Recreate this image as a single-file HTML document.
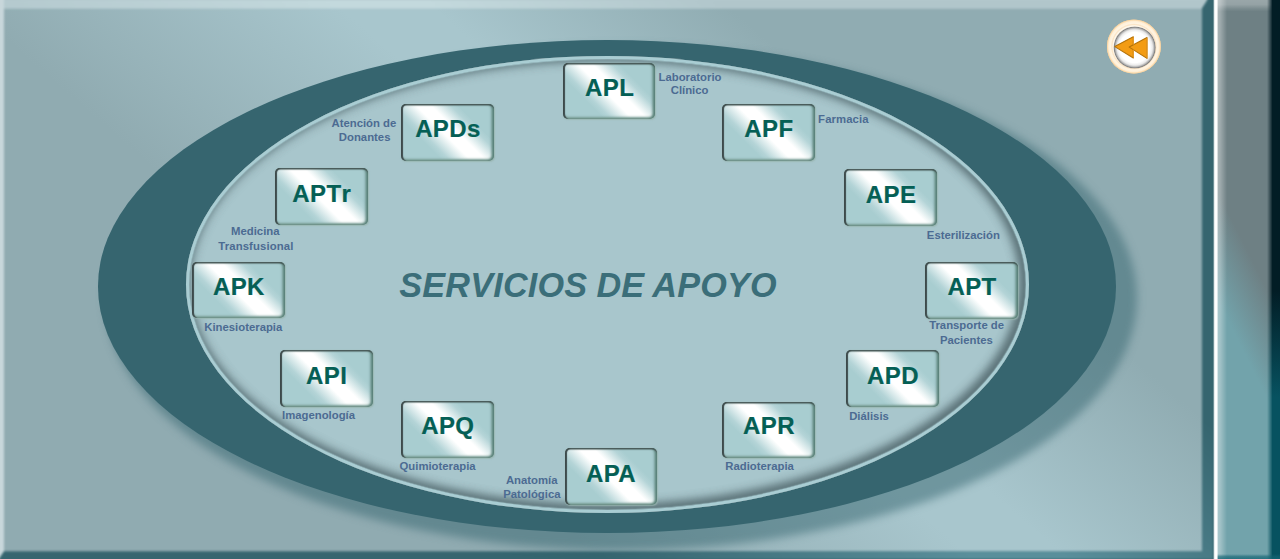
<!DOCTYPE html>
<html lang="es"><head><meta charset="utf-8"><title>Servicios de Apoyo</title>
<style>
*{box-sizing:border-box;margin:0;padding:0}
html,body{width:1280px;height:559px;overflow:hidden;background:#90abb2;font-family:"Liberation Sans",Arial,sans-serif}
#stage{position:relative;width:1280px;height:559px;overflow:hidden}
.p{position:absolute;left:0;top:0;width:1213.4px;height:559px}
#main{background:linear-gradient(41deg,#90abb1 0%,#90abb1 32.5%,#a8c6cd 52.5%,#a8c6cd 57.5%,#90acb2 73.5%,#90acb2 100%)}
#edge{position:absolute;left:-20px;top:-20px;width:1236.4px;height:599px;filter:blur(.8px)}
#edge div{position:absolute;left:0;top:0;width:1236.4px;height:599px;background-repeat:no-repeat;background-size:1213.4px 559px;background-position:20px 20px}
#bt{background-color:#b3c8cd;background-image:linear-gradient(41deg,#b3c8cd 0%,#b3c8cd 32.5%,#c3d9dd 52.5%,#c3d9dd 57.5%,#b1c6cb 73.5%,#b1c6cb 100%);clip-path:polygon(24px 0,1227.4px 0,1227.4px 20px,1222.0px 28.6px,24px 28.6px)}
#bl{background:#c8d7db;clip-path:polygon(0 0,24px 0,24px 571.6px,19px 579px,0 579px)}
#bd{background-color:#36656f;background-image:linear-gradient(41deg,#36656f 0%,#36656f 32.5%,#5a8f9b 52.5%,#5a8f9b 57.5%,#36656f 73.5%,#36656f 100%);clip-path:polygon(0 599px,0 579px,19px 579px,24px 571.6px,1222.0px 571.6px,1222.0px 28.6px,1227.4px 20px,1227.4px 0,1236.4px 0,1236.4px 599px)}
#wl{position:absolute;left:1212.8px;top:0;width:5.6px;height:559px;background:linear-gradient(to right,rgba(255,255,255,0) 0,rgba(255,255,255,.5) .9px,#fff 1.7px,#fff 3.7px,rgba(255,255,255,.5) 4.6px,rgba(255,255,255,0) 5.6px)}
#side{position:absolute;left:1217px;top:0;width:63px;height:559px;overflow:hidden;
  background:linear-gradient(243.4deg,#6e8084 0%,#6e8084 46%,#72a3ab 62%,#72a3ab 100%)}
#side i{position:absolute;display:block}
#sl{left:0;top:0;width:12px;height:559px;background:linear-gradient(to right,rgba(255,255,255,.42) 0,rgba(255,255,255,.34) 3px,rgba(255,255,255,0) 10px)}
#st{left:0;top:0;width:63px;height:12px;background:linear-gradient(to bottom,rgba(255,255,255,.30) 0,rgba(255,255,255,.27) 4.5px,rgba(255,255,255,.08) 9px,rgba(255,255,255,0) 11.5px)}
#sr{right:0;top:0;width:12.6px;height:559px;background:linear-gradient(to bottom,#021d25 0%,#021d25 52%,#075260 71%,#075260 100%);
  -webkit-mask-image:linear-gradient(to right,transparent 0,rgba(0,0,0,.5) 3px,#000 5.5px);mask-image:linear-gradient(to right,transparent 0,rgba(0,0,0,.5) 3px,#000 5.5px)}
#sb{left:0;bottom:0;width:63px;height:5px;background:linear-gradient(to bottom,rgba(20,100,115,0) 0,rgba(20,100,115,.6) 2.5px,rgba(20,100,115,.8) 5px)}
#shadow{position:absolute;left:104.9px;top:46.4px;width:1032.1px;height:503.2px;border-radius:50%;background:rgba(54,101,111,.5);filter:blur(4.2px)}
#outer{position:absolute;left:98.4px;top:40.4px;width:1018.1px;height:492.2px;border-radius:50%;background:#36656f}
#inner{position:absolute;left:185.6px;top:55.8px;width:843px;height:457px;border-radius:50%;background:#a8c6cc;box-shadow:inset -3px -2px 9px 6.5px rgba(84,106,112,.9),inset -2px -1px 13px 4px rgba(90,112,118,.3)}
#ring{position:absolute;left:185.6px;top:55.8px;width:843px;height:457px;border-radius:50%;border:3px solid #a9cdd3;box-shadow:inset 0 0 1.2px .3px #a9cdd3}
.b{position:absolute;width:92.5px;height:56.6px;color:#055f55;font-weight:bold;font-size:24px;line-height:24px;text-align:center;white-space:nowrap;letter-spacing:.4px}
.b i{position:absolute;left:0;top:0;right:0;bottom:0;border-radius:5px;
  background:linear-gradient(45deg,#a8cdd0 0%,#a8cdd0 28%,#b4d4d7 33%,#f2f8f8 44.5%,#fff 47%,#fff 57%,#f2f8f8 59.5%,#b4d4d7 70%,#a8cdd0 75%,#a8cdd0 100%);
  box-shadow:inset 2.2px 0 .9px -.2px #3d4a4b,inset 0 1.8px 1px -.2px #485a59,inset -2.4px 0 2.6px 0 #5a8279,inset 0 -2px 2.4px 0 #7fa29a,.7px .6px 1.2px rgba(150,180,174,.75)}
.b span{position:absolute;left:.9px;right:0;top:13.87px;-webkit-text-stroke:.2px #055f55}
.l{position:absolute;color:#4c6b92;font-weight:bold;font-size:11.33px;line-height:14px;white-space:nowrap;transform:translateX(-50%)}
#title{position:absolute;left:399.2px;color:#3b6e79;font-weight:bold;font-style:italic;font-size:34.2px;line-height:40px;white-space:nowrap;letter-spacing:.22px;word-spacing:-.6px}
#back{position:absolute;left:1100px;top:12px;width:68px;height:68px}
</style></head><body>
<div id="stage">
<div id="main" class="p"></div><div id="edge"><div id="bt"></div><div id="bl"></div><div id="bd"></div></div>
<div id="side"><i id="sl"></i><i id="st"></i><i id="sr"></i><i id="sb"></i></div><div id="wl"></div>
<div id="shadow"></div><div id="outer"></div><div id="inner"></div><div id="ring"></div>
<div class="b" style="left:562.95px;top:62.75px"><i></i><span style="top:13.45px">APL</span></div>
<div class="b" style="left:722.2px;top:103.95px"><i></i><span style="top:13.25px">APF</span></div>
<div class="b" style="left:844.4px;top:169.35px"><i></i><span style="top:13.85px">APE</span></div>
<div class="b" style="left:925.4px;top:262.0px"><i></i><span style="top:13.20px">APT</span></div>
<div class="b" style="left:846.25px;top:350.3px"><i></i><span style="top:13.90px">APD</span></div>
<div class="b" style="left:722.35px;top:401.5px"><i></i><span style="top:12.70px">APR</span></div>
<div class="b" style="left:564.7px;top:448.45px"><i></i><span style="top:13.75px;left:.1px">APA</span></div>
<div class="b" style="left:401.15px;top:401.4px"><i></i><span style="top:12.80px">APQ</span></div>
<div class="b" style="left:280.0px;top:350.3px"><i></i><span style="top:13.90px">API</span></div>
<div class="b" style="left:192.2px;top:261.9px"><i></i><span style="top:13.30px">APK</span></div>
<div class="b" style="left:275.15px;top:168.05px"><i></i><span style="top:14.15px;font-kerning:none">APTr</span></div>
<div class="b" style="left:401.25px;top:103.95px"><i></i><span style="top:13.25px">APDs</span></div>
<div class="l" style="left:690.0px;top:70.2px">Laboratorio</div>
<div class="l" style="left:689.6px;top:83.2px">Clínico</div>
<div class="l" style="left:843.4px;top:112.2px;letter-spacing:.1px">Farmacia</div>
<div class="l" style="left:963.35px;top:228.2px">Esterilización</div>
<div class="l" style="left:966.6px;top:318.2px">Transporte de</div>
<div class="l" style="left:966.4px;top:333.2px">Pacientes</div>
<div class="l" style="left:869.0px;top:409.2px">Diálisis</div>
<div class="l" style="left:759.6px;top:459.2px">Radioterapia</div>
<div class="l" style="left:531.75px;top:473.2px">Anatomía</div>
<div class="l" style="left:531.9px;top:487.2px">Patológica</div>
<div class="l" style="left:437.6px;top:459.2px">Quimioterapia</div>
<div class="l" style="left:318.5px;top:408.2px">Imagenología</div>
<div class="l" style="left:243.3px;top:320.2px">Kinesioterapia</div>
<div class="l" style="left:255.3px;top:224.2px">Medicina</div>
<div class="l" style="left:255.9px;top:239.2px;letter-spacing:.12px">Transfusional</div>
<div class="l" style="left:363.9px;top:116.2px">Atención de</div>
<div class="l" style="left:364.65px;top:130.2px">Donantes</div>
<div id="title" style="top:265.2px">SERVICIOS DE APOYO</div>
<svg id="back" viewBox="1100 12 68 68">
<defs>
<radialGradient id="ro" cx="50%" cy="50%" r="50%"><stop offset="0" stop-color="#fff8ec"/><stop offset="0.76" stop-color="#fff8ec"/><stop offset="0.80" stop-color="#fbe4c4"/><stop offset="0.85" stop-color="#fff5e4"/><stop offset="0.92" stop-color="#ffefd6"/><stop offset="0.965" stop-color="#fad8a8"/><stop offset="0.99" stop-color="#f3cf9e" stop-opacity=".8"/><stop offset="1" stop-color="#f0cc9c" stop-opacity="0"/></radialGradient>
<radialGradient id="ri" cx="50%" cy="50%" r="50%"><stop offset="0" stop-color="#fff"/><stop offset="0.72" stop-color="#fff"/><stop offset="0.84" stop-color="#ebebeb"/><stop offset="0.915" stop-color="#b8b8b8"/><stop offset="0.965" stop-color="#828282"/><stop offset="1" stop-color="#8c8680" stop-opacity=".6"/></radialGradient>
</defs>
<circle cx="1133.9" cy="46.55" r="27.4" fill="url(#ro)"/>
<circle cx="1134.7" cy="47.5" r="21.1" fill="url(#ri)"/>
<path d="M1114.8 46.6 L1133.3 36.8 L1133.3 58 Z" fill="#f39c14" stroke="#b47208" stroke-width="1.1" stroke-linejoin="round"/>
<path d="M1129.2 47.1 L1147 37.5 L1147 58.4 Z" fill="#f39c14" stroke="#b47208" stroke-width="1.1" stroke-linejoin="round"/>
<path d="M1133.3 37.4 L1133.3 44.6 M1133.3 49.6 L1133.3 57.5 M1147 38 L1147 57.9" stroke="#f0a12a" stroke-width="1" fill="none"/>
</svg>
</div></body></html>
